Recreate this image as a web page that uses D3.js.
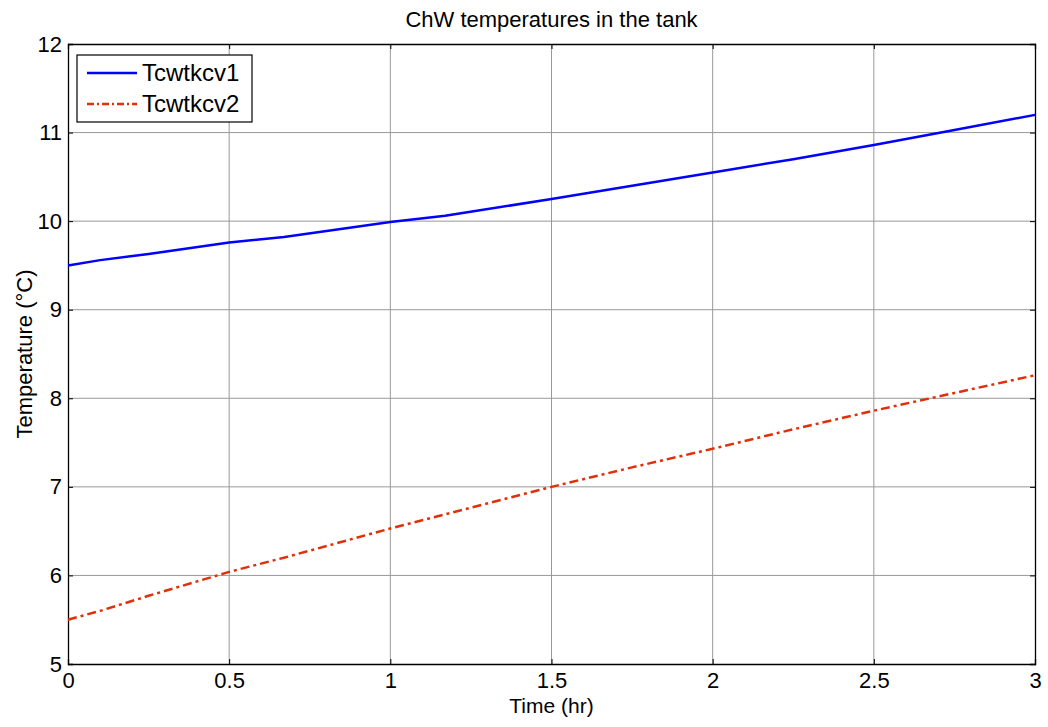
<!DOCTYPE html>
<html>
<head>
<meta charset="utf-8">
<script src="https://cdn.jsdelivr.net/npm/d3@7"></script>
<style>
  body { margin: 0; background: #fff; }
  text { font-family: "Liberation Sans", Arial, sans-serif; fill: #000; }
</style>
</head>
<body>
<div id="chart"></div>
<script>
// data
var timeHr = [0, 0.1, 0.25, 0.5, 0.67, 1.0, 1.17, 1.5, 1.75, 2.0, 2.25, 2.5, 2.75, 3.0];
var tcwtkcv1 = [9.5, 9.56, 9.63, 9.76, 9.82, 9.99, 10.06, 10.25, 10.4, 10.55, 10.7, 10.86, 11.03, 11.2];
var tcwtkcv2 = [5.5, 5.6, 5.77, 6.04, 6.2, 6.53, 6.69, 7.0, 7.22, 7.43, 7.65, 7.86, 8.06, 8.26];
var xTicks = [0, 0.5, 1, 1.5, 2, 2.5, 3];
var yTicks = [5, 6, 7, 8, 9, 10, 11, 12];
var seriesNames = ["Tcwtkcv1", "Tcwtkcv2"];

var W = 1048, H = 727;
var margin = { top: 44, right: 13, bottom: 63, left: 68 },
    width = W - margin.left - margin.right,
    height = H - margin.top - margin.bottom;

var svg = d3.select("#chart").append("svg")
    .attr("width", W)
    .attr("height", H);

var g = svg.append("g")
    .attr("transform", "translate(" + margin.left + "," + margin.top + ")");

var x = d3.scaleLinear().domain([0, 3]).range([0, width]);
var y = d3.scaleLinear().domain([5, 12]).range([height, 0]);

// grid
g.append("g").selectAll("line").data(xTicks.slice(1, -1)).enter().append("line")
    .attr("x1", d => x(d)).attr("x2", d => x(d))
    .attr("y1", 0).attr("y2", height)
    .attr("stroke", "#999").attr("stroke-width", 1);
g.append("g").selectAll("line").data(yTicks.slice(1, -1)).enter().append("line")
    .attr("y1", d => y(d)).attr("y2", d => y(d))
    .attr("x1", 0).attr("x2", width)
    .attr("stroke", "#999").attr("stroke-width", 1);

// axes with inward ticks
var xAxis = g.append("g")
    .attr("transform", "translate(0," + height + ")")
    .call(d3.axisBottom(x).tickValues(xTicks).tickSize(-5).tickFormat(d3.format("")));
var yAxis = g.append("g")
    .call(d3.axisLeft(y).tickValues(yTicks).tickSize(-5).tickFormat(d3.format("d")));
g.append("g")
    .call(d3.axisTop(x).tickValues(xTicks).tickSize(-5).tickFormat(""));
g.append("g")
    .attr("transform", "translate(" + width + ",0)")
    .call(d3.axisRight(y).tickValues(yTicks).tickSize(-5).tickFormat(""));

g.selectAll(".domain").attr("stroke", "#000").attr("stroke-width", 1.3);
g.selectAll(".tick line").attr("stroke", "#000");
xAxis.selectAll("text").style("font-size", "22px").attr("dy", "0.71em").attr("y", 8);
yAxis.selectAll("text").style("font-size", "22px").attr("x", -6);

// lines
var line1 = d3.line().x((d, i) => x(timeHr[i])).y(d => y(d));
g.append("path").datum(tcwtkcv1)
    .attr("fill", "none").attr("stroke", "#0000ff").attr("stroke-width", 2.5)
    .attr("d", line1);
g.append("path").datum(tcwtkcv2)
    .attr("fill", "none").attr("stroke", "#e0300a").attr("stroke-width", 2.5)
    .attr("stroke-dasharray", "9,4,3,4")
    .attr("d", line1);

// legend
var leg = g.append("g").attr("transform", "translate(9,11)");
leg.append("rect").attr("width", 175).attr("height", 67)
    .attr("fill", "#fff").attr("stroke", "#000").attr("stroke-width", 1.2);
var styles = [{ c: "#0000ff", dash: null }, { c: "#e0300a", dash: "7,3,2,3" }];
seriesNames.forEach(function (name, i) {
    var yy = 18 + i * 31;
    leg.append("line").attr("x1", 10).attr("x2", 60).attr("y1", yy).attr("y2", yy)
        .attr("stroke", styles[i].c).attr("stroke-width", 2.5)
        .attr("stroke-dasharray", styles[i].dash);
    leg.append("text").attr("x", 65).attr("y", yy).attr("dy", "0.35em")
        .style("font-size", "24px").text(name);
});

// titles
svg.append("text").attr("x", margin.left + width / 2).attr("y", 27)
    .attr("text-anchor", "middle").style("font-size", "22px")
    .text("ChW temperatures in the tank");
svg.append("text").attr("x", margin.left + width / 2).attr("y", 713)
    .attr("text-anchor", "middle").style("font-size", "21px")
    .text("Time (hr)");
svg.append("text")
    .attr("transform", "translate(32," + (margin.top + height / 2) + ") rotate(-90)")
    .attr("text-anchor", "middle").style("font-size", "22px")
    .text("Temperature (\u00B0C)");
</script>
</body>
</html>
